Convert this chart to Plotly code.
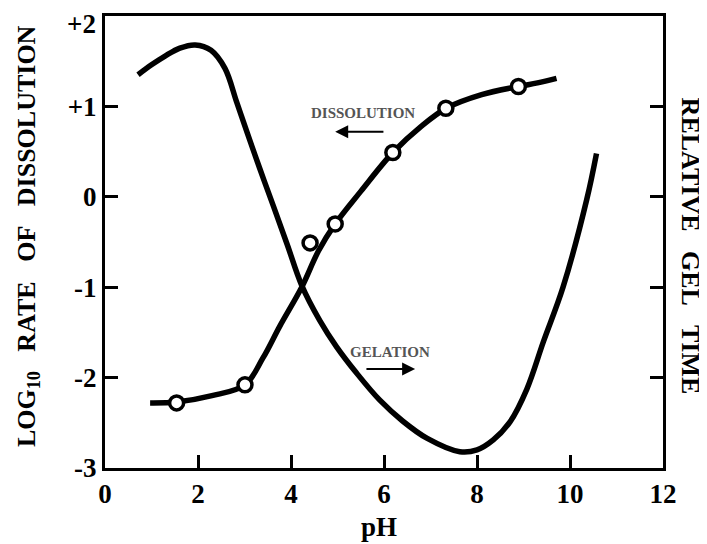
import plotly.graph_objects as go

# ---- data ----
diss_line_ph = [0.97, 1.54, 2.3, 3.01, 3.40, 3.76, 4.23, 4.59, 4.95, 5.5, 6.19, 6.8, 7.34, 8.1, 8.89, 9.3, 9.71]
diss_line_log = [-2.28, -2.27, -2.20, -2.08, -1.78, -1.43, -1.00, -0.60, -0.30, 0.06, 0.49, 0.78, 0.98, 1.13, 1.22, 1.26, 1.31]

diss_pts_ph = [1.54, 3.01, 4.41, 4.95, 6.19, 7.33, 8.89]
diss_pts_log = [-2.28, -2.08, -0.51, -0.30, 0.49, 0.98, 1.22]

gel_ph = [0.71, 1.0, 1.3, 1.61, 1.94, 2.28, 2.58, 2.83, 3.05, 3.33, 3.62, 3.92, 4.23, 4.62,
          4.98, 5.41, 5.91, 6.4, 6.92, 7.63, 8.0, 8.35, 8.71, 9.07, 9.43, 9.85, 10.36, 10.57]
gel_val = [1.35, 1.46, 1.56, 1.645, 1.68, 1.62, 1.42, 1.05, 0.72, 0.31, -0.10, -0.53, -0.98, -1.37,
           -1.66, -1.95, -2.25, -2.48, -2.67, -2.82, -2.80, -2.69, -2.49, -2.13, -1.60, -1.0, -0.03, 0.48]

x_ticks = [0, 2, 4, 6, 8, 10, 12]
x_tick_text = ["0", "2", "4", "6", "8", "10", "12"]
y_ticks = [2, 1, 0, -1, -2, -3]
y_tick_text = ["+2", "+1", "0", "-1", "-2", "-3"]

FONT = "Liberation Serif"
SP = "\u00a0\u00a0 "

fig = go.Figure()
fig.add_trace(go.Scatter(x=gel_ph, y=gel_val, mode="lines",
                         line=dict(color="black", width=5.5, shape="spline", smoothing=1.0),
                         hoverinfo="skip", showlegend=False))
fig.add_trace(go.Scatter(x=diss_line_ph, y=diss_line_log, mode="lines",
                         line=dict(color="black", width=5.5, shape="spline", smoothing=1.0),
                         hoverinfo="skip", showlegend=False))
fig.add_trace(go.Scatter(x=diss_pts_ph, y=diss_pts_log, mode="markers",
                         marker=dict(symbol="circle", size=14, color="white",
                                     line=dict(color="black", width=3.5)),
                         showlegend=False))

tickfont = dict(family=FONT, size=27, color="black", weight="bold")
axis_common = dict(showgrid=False, zeroline=False, showline=True, linecolor="black",
                   linewidth=3, ticks="inside", ticklen=13, tickwidth=2.5, tickcolor="black",
                   automargin=False, tickfont=tickfont)

fig.update_xaxes(range=[0, 12], tickvals=x_ticks, ticktext=x_tick_text, mirror=True,
                 **axis_common)
# top label (+2) is drawn as an annotation, nudged down like in the reference
fig.update_yaxes(range=[-3, 2], tickvals=y_ticks,
                 ticktext=[""] + y_tick_text[1:], mirror="allticks",
                 **axis_common)

ann = []
ann.append(dict(text=y_tick_text[0], xref="paper", yref="y", x=0, y=y_ticks[0], xanchor="right",
                yanchor="middle", xshift=-7, yshift=-8, showarrow=False, font=tickfont))
# axis titles
ann.append(dict(text="<b>LOG<sub>10</sub>" + SP + "RATE" + SP + "OF" + SP + "DISSOLUTION</b>",
                xref="paper", yref="paper",
                x=-0.138, y=0.513, textangle=-90, showarrow=False, xanchor="center", yanchor="middle",
                font=dict(family=FONT, size=26, color="black")))
ann.append(dict(text="<b>RELATIVE" + SP + "GEL" + SP + "TIME</b>", xref="paper", yref="paper",
                x=1.05, y=0.49, textangle=90, showarrow=False, xanchor="center", yanchor="middle",
                font=dict(family=FONT, size=26, color="black")))
ann.append(dict(text="<b>pH</b>", xref="x", yref="paper", x=5.9, y=-0.13, showarrow=False,
                xanchor="center", yanchor="middle", font=dict(family=FONT, size=27, color="black")))
# curve labels
ann.append(dict(text="<b>DISSOLUTION</b>", xref="x", yref="y", x=5.55, y=0.93, showarrow=False,
                xanchor="center", yanchor="middle", font=dict(family=FONT, size=15, color="#555")))
ann.append(dict(text="<b>GELATION</b>", xref="x", yref="y", x=6.13, y=-1.72, showarrow=False,
                xanchor="center", yanchor="middle", font=dict(family=FONT, size=15, color="#555")))
# arrows
ann.append(dict(text="", x=4.95, y=0.72, ax=6.02, ay=0.72, xref="x", yref="y", axref="x", ayref="y",
                showarrow=True, arrowhead=2, arrowsize=1.3, arrowwidth=2, arrowcolor="black"))
ann.append(dict(text="", x=6.67, y=-1.905, ax=5.59, ay=-1.905, xref="x", yref="y", axref="x", ayref="y",
                showarrow=True, arrowhead=2, arrowsize=1.3, arrowwidth=2, arrowcolor="black"))

# page body has an 8px default margin, so the figure is sized/offset to compensate
fig.update_layout(width=699, height=536, margin=dict(l=97, r=44, t=8, b=76, autoexpand=False),
                  paper_bgcolor="white", plot_bgcolor="white", annotations=ann,
                  font=dict(family=FONT, color="black"))

fig.write_html("out.html")
